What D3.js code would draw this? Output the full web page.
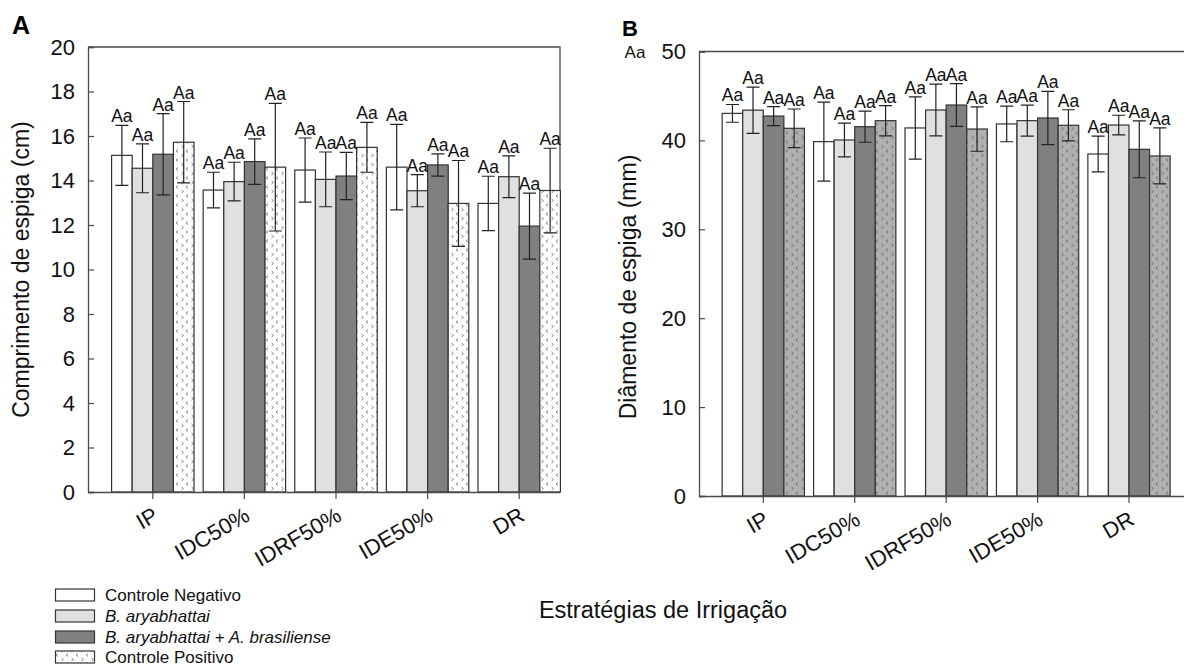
<!DOCTYPE html>
<html>
<head>
<meta charset="utf-8">
<script src="https://cdn.jsdelivr.net/npm/d3@7"></script>
<style>
  html, body { margin: 0; padding: 0; background: #fff; }
  svg { display: block; font-family: Arial, "Liberation Sans", sans-serif; }
</style>
</head>
<body>
<svg id="chart" width="1184" height="668"></svg>
<script>
// ---------- DATA ----------
const categories = ["IP", "IDC50%", "IDRF50%", "IDE50%", "DR"];
const seriesNames = ["Controle Negativo", "B. aryabhattai", "B. aryabhattai + A. brasiliense", "Controle Positivo"];
const seriesItalic = [false, true, true, false];

// Panel A: Comprimento de espiga (cm)
const lenNegativo   = [15.13, 13.57, 14.47, 14.60, 12.97];
const lenAryab      = [14.55, 13.95, 14.05, 13.54, 14.17];
const lenAryabBras  = [15.18, 14.85, 14.20, 14.70, 11.95];
const lenPositivo   = [15.72, 14.60, 15.49, 12.97, 13.55];
const lenErrNegativo  = [1.35, 0.80, 1.44, 1.92, 1.22];
const lenErrAryab     = [1.10, 0.87, 1.23, 0.72, 0.94];
const lenErrAryabBras = [1.83, 1.02, 1.06, 0.50, 1.48];
const lenErrPositivo  = [1.83, 2.87, 1.12, 1.93, 1.90];

// Panel B: Diâmento de espiga (mm)
const diaNegativo   = [43.04, 39.86, 41.40, 41.85, 38.47];
const diaAryab      = [43.40, 40.05, 43.42, 42.22, 41.73];
const diaAryabBras  = [42.74, 41.54, 43.98, 42.52, 39.00];
const diaPositivo   = [41.36, 42.22, 41.28, 41.70, 38.25];
const diaErrNegativo  = [1.00, 4.45, 3.50, 2.00, 2.00];
const diaErrAryab     = [2.60, 1.90, 2.90, 1.75, 1.10];
const diaErrAryabBras = [1.07, 1.75, 2.40, 3.00, 3.20];
const diaErrPositivo  = [2.17, 1.70, 2.50, 1.75, 3.15];

const letterLabel = "Aa";
const lenTicks = [0, 2, 4, 6, 8, 10, 12, 14, 16, 18, 20];
const diaTicks = [0, 10, 20, 30, 40, 50];

// ---------- DRAWING ----------
const svg = d3.select("#chart");
const defs = svg.append("defs");

function makePattern(id, bg, mark) {
  const p = defs.append("pattern").attr("id", id)
    .attr("patternUnits", "userSpaceOnUse").attr("width", 10).attr("height", 9);
  p.append("rect").attr("width", 10).attr("height", 9).attr("fill", bg);
  p.append("path").attr("d", "M1.5,1 L3.5,2.5 L1.5,4")
    .attr("fill", "none").attr("stroke", mark).attr("stroke-width", 1);
  p.append("path").attr("d", "M8,5.5 L6,7 L8,8.5")
    .attr("fill", "none").attr("stroke", mark).attr("stroke-width", 1);
}
makePattern("patA", "#ffffff", "#8f8f8f");
makePattern("patB", "#b0b0b0", "#767676");

const fillsA = ["#ffffff", "#e0e0e0", "#808080", "url(#patA)"];
const fillsB = ["#ffffff", "#e0e0e0", "#808080", "url(#patB)"];
const axisColor = "#4a4a4a";
const barStroke = "#333333";
const FONT = "Arial, 'Liberation Sans', sans-serif";

function drawPanel(cfg) {
  const { left, right, top, bottom, yMax, ticks, values, errors, fills, firstCenter, lastCenter } = cfg;
  const g = svg.append("g");
  const y = d3.scaleLinear().domain([0, yMax]).range([bottom, top]);
  const half = (lastCenter - firstCenter) / (categories.length - 1) / 2;
  const x0 = d3.scaleBand().domain(categories)
    .range([firstCenter - half, lastCenter + half]).paddingInner(0).paddingOuter(0);
  const groupW = x0.bandwidth() * 0.9;
  const x1 = d3.scaleBand().domain(d3.range(seriesNames.length))
    .range([0, groupW]).padding(0);

  // frame (top / right)
  g.append("path")
    .attr("d", `M${left},${top} L${right},${top} L${right},${bottom}`)
    .attr("fill", "none").attr("stroke", axisColor).attr("stroke-width", 1.3);

  // bars
  seriesNames.forEach((s, si) => {
    categories.forEach((c, ci) => {
      const cx = x0(c) + (x0.bandwidth() - groupW) / 2 + x1(si);
      const v = values[si][ci];
      g.append("rect")
        .attr("x", cx).attr("y", y(v))
        .attr("width", x1.bandwidth()).attr("height", y(0) - y(v))
        .attr("fill", fills[si]).attr("stroke", barStroke).attr("stroke-width", 1.2);
    });
  });
  // error bars + labels
  seriesNames.forEach((s, si) => {
    categories.forEach((c, ci) => {
      const mx = x0(c) + (x0.bandwidth() - groupW) / 2 + x1(si) + x1.bandwidth() / 2;
      const v = values[si][ci], e = errors[si][ci];
      const yt = y(v + e), yb = y(v - e);
      const cap = 6.5;
      g.append("path")
        .attr("d", `M${mx},${yt} L${mx},${yb} M${mx - cap},${yt} L${mx + cap},${yt} M${mx - cap},${yb} L${mx + cap},${yb}`)
        .attr("fill", "none").attr("stroke", "#222").attr("stroke-width", 1.2);
      g.append("text").attr("x", mx).attr("y", yt - 3)
        .attr("text-anchor", "middle").attr("font-size", 17.5).attr("fill", "#111")
        .text(letterLabel);
    });
  });

  // y axis
  const yAxis = d3.axisLeft(y).tickValues(ticks).tickSize(-6).tickPadding(13);
  const ya = g.append("g").attr("transform", `translate(${left},0)`).call(yAxis);
  ya.select(".domain").attr("stroke", axisColor).attr("stroke-width", 1.3);
  ya.selectAll(".tick line").attr("stroke", axisColor).attr("stroke-width", 1.2);
  ya.selectAll(".tick text").attr("font-size", 22).attr("fill", "#111")
    .attr("font-family", FONT);

  // x axis
  const xAxis = d3.axisBottom(x0).tickSize(7).tickSizeOuter(0);
  const xa = g.append("g").attr("transform", `translate(0,${bottom})`).call(xAxis);
  xa.select(".domain").attr("d", `M${left},0.5 H${right}`)
    .attr("stroke", axisColor).attr("stroke-width", 1.3);
  xa.selectAll(".tick line").attr("stroke", axisColor).attr("stroke-width", 1.2);
  xa.selectAll(".tick text")
    .attr("font-size", 22).attr("fill", "#111")
    .attr("font-family", FONT)
    .attr("text-anchor", "end")
    .attr("x", 0).attr("y", 0).attr("dy", "0.35em")
    .attr("transform", "translate(3,21) rotate(-30)");
  return g;
}

drawPanel({
  left: 88, right: 560, top: 47, bottom: 492, yMax: 20, ticks: lenTicks,
  values: [lenNegativo, lenAryab, lenAryabBras, lenPositivo],
  errors: [lenErrNegativo, lenErrAryab, lenErrAryabBras, lenErrPositivo],
  fills: fillsA, firstCenter: 152.8, lastCenter: 519.2
});
drawPanel({
  left: 699, right: 1187, top: 51.5, bottom: 496, yMax: 50, ticks: diaTicks,
  values: [diaNegativo, diaAryab, diaAryabBras, diaPositivo],
  errors: [diaErrNegativo, diaErrAryab, diaErrAryabBras, diaErrPositivo],
  fills: fillsB, firstCenter: 763.3, lastCenter: 1129
});

// panel letters
svg.append("text").attr("x", 12).attr("y", 34).attr("font-size", 25)
  .attr("font-weight", "bold").text("A");
svg.append("text").attr("x", 622).attr("y", 36).attr("font-size", 22)
  .attr("font-weight", "bold").text("B");
svg.append("text").attr("x", 635).attr("y", 58).attr("text-anchor", "middle")
  .attr("font-size", 17).attr("fill", "#111").text(letterLabel);

// axis titles
svg.append("text").attr("transform", "translate(29,269.5) rotate(-90)")
  .attr("text-anchor", "middle").attr("font-size", 23).attr("fill", "#111")
  .text("Comprimento de espiga (cm)");
svg.append("text").attr("transform", "translate(636,287) rotate(-90)")
  .attr("text-anchor", "middle").attr("font-size", 23).attr("fill", "#111")
  .text("Diâmento de espiga (mm)");
svg.append("text").attr("x", 663).attr("y", 618).attr("text-anchor", "middle")
  .attr("font-size", 23.5).attr("fill", "#111").text("Estratégias de Irrigação");

// legend
const legendRows = [595, 616, 637, 657];
const legendFills = ["#ffffff", "#e0e0e0", "#808080", "url(#patA)"];
const lg = svg.append("g");
seriesNames.forEach((s, i) => {
  lg.append("rect").attr("x", 55.5).attr("y", legendRows[i] - 6)
    .attr("width", 39).attr("height", 12)
    .attr("fill", legendFills[i]).attr("stroke", barStroke).attr("stroke-width", 1.2);
  lg.append("text").attr("x", 105).attr("y", legendRows[i]).attr("dy", "0.35em")
    .attr("font-size", 17).attr("fill", "#111")
    .attr("font-style", seriesItalic[i] ? "italic" : "normal")
    .text(s);
});
</script>
</body>
</html>
